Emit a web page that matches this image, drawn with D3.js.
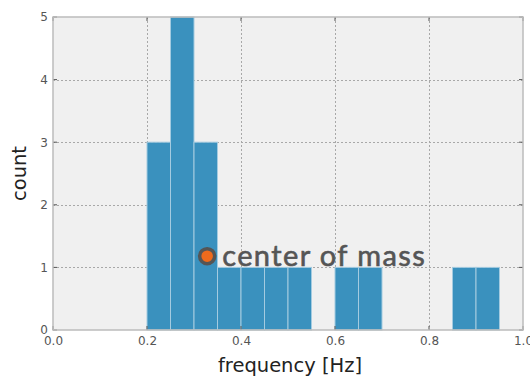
<!DOCTYPE html>
<html>
<head>
<meta charset="utf-8">
<script src="https://cdn.jsdelivr.net/npm/d3@7"></script>
<style>
  html, body { margin: 0; padding: 0; background: #ffffff; }
  svg { display: block; }
</style>
</head>
<body>
<svg id="chart" width="530" height="379"></svg>
<script>
// Histogram bins (left edges, width 0.05 Hz) and their counts
const binStarts = [0.20, 0.25, 0.30, 0.35, 0.40, 0.45, 0.50, 0.60, 0.65, 0.85, 0.90];
const binCounts = [3, 5, 3, 1, 1, 1, 1, 1, 1, 1, 1];
const binWidth = 0.05;

const xTicks = [0.0, 0.2, 0.4, 0.6, 0.8, 1.0];
const yTicks = [0, 1, 2, 3, 4, 5];

// Annotated point
const markerX = [0.328];
const markerY = [1.18];
const markerLabel = ["center of mass"];

const margin = { left: 53, right: 7, top: 17, bottom: 49 };
const W = 530, H = 379;

const svg = d3.select("#chart");
const x = d3.scaleLinear().domain([0, 1]).range([margin.left, W - margin.right]);
const y = d3.scaleLinear().domain([0, 5]).range([H - margin.bottom, margin.top]);

// plot background
svg.append("rect")
  .attr("x", x(0)).attr("y", y(5))
  .attr("width", x(1) - x(0)).attr("height", y(0) - y(5))
  .attr("fill", "#f0f0f0");

// grid
const grid = svg.append("g").attr("stroke", "#a8a8a8").attr("stroke-width", 1)
  .attr("stroke-dasharray", "2,2").attr("fill", "none");
grid.selectAll("line.v").data(xTicks.slice(1, -1)).join("line")
  .attr("x1", d => Math.round(x(d)) + 0.5).attr("x2", d => Math.round(x(d)) + 0.5)
  .attr("y1", y(5)).attr("y2", y(0));
grid.selectAll("line.h").data(yTicks.slice(1, -1)).join("line")
  .attr("y1", d => Math.round(y(d)) + 0.5).attr("y2", d => Math.round(y(d)) + 0.5)
  .attr("x1", x(0)).attr("x2", x(1));

// bars
svg.append("g").selectAll("rect").data(binStarts).join("rect")
  .attr("x", d => x(d))
  .attr("y", (d, i) => y(binCounts[i]))
  .attr("width", x(binWidth) - x(0))
  .attr("height", (d, i) => y(0) - y(binCounts[i]))
  .attr("fill", "#3a91be")
  .attr("stroke", "#a4cbe0")
  .attr("stroke-width", 1);

// axes with gray frame
const tickFmt = d3.format(".1f");
const xAxis = svg.append("g").attr("transform", `translate(0,${y(0)})`)
  .call(d3.axisBottom(x).tickValues(xTicks).tickFormat(tickFmt).tickSize(0).tickPadding(6));
const yAxis = svg.append("g").attr("transform", `translate(${x(0)},0)`)
  .call(d3.axisLeft(y).tickValues(yTicks).tickFormat(d3.format("d")).tickSize(0).tickPadding(5));
[xAxis, yAxis].forEach(a => {
  a.select(".domain").remove();
  a.selectAll("text").attr("fill", "#555").attr("font-family", "DejaVu Sans").attr("font-size", 12);
});

// small tick marks on the inside of the frame
const tk = svg.append("g").attr("stroke", "#555").attr("stroke-width", 1);
tk.selectAll("line.yl").data(yTicks).join("line")
  .attr("x1", x(0)).attr("x2", x(0) + 4).attr("y1", d => y(d)).attr("y2", d => y(d));
tk.selectAll("line.yr").data(yTicks).join("line")
  .attr("x1", x(1) - 4).attr("x2", x(1)).attr("y1", d => y(d)).attr("y2", d => y(d));
tk.selectAll("line.xb").data(xTicks).join("line")
  .attr("y1", y(0)).attr("y2", y(0) - 4).attr("x1", d => x(d)).attr("x2", d => x(d));
tk.selectAll("line.xt").data(xTicks).join("line")
  .attr("y1", y(5)).attr("y2", y(5) + 4).attr("x1", d => x(d)).attr("x2", d => x(d));

svg.append("rect")
  .attr("x", x(0)).attr("y", y(5))
  .attr("width", x(1) - x(0)).attr("height", y(0) - y(5))
  .attr("fill", "none").attr("stroke", "#bcbcbc").attr("stroke-width", 1.5);

// axis titles
svg.append("text")
  .attr("x", 290).attr("y", 372)
  .attr("text-anchor", "middle")
  .attr("font-family", "DejaVu Sans").attr("font-size", 19.5).attr("fill", "#222")
  .text("frequency [Hz]");
svg.append("text")
  .attr("transform", `translate(26,${(y(0) + y(5)) / 2}) rotate(-90)`)
  .attr("text-anchor", "middle")
  .attr("font-family", "DejaVu Sans").attr("font-size", 19.5).attr("fill", "#222")
  .text("count");

// center-of-mass marker and its label
const m = svg.append("g");
m.selectAll("circle").data(markerX).join("circle")
  .attr("cx", d => x(d)).attr("cy", (d, i) => y(markerY[i]))
  .attr("r", 7.5)
  .attr("fill", "#ee6a1c").attr("stroke", "#555").attr("stroke-width", 3.5);
m.selectAll("text").data(markerX).join("text")
  .attr("x", d => x(d) + 15).attr("y", (d, i) => y(markerY[i]) + 10)
  .attr("font-family", "Lato").attr("font-size", 29).attr("letter-spacing", 1.4)
  .attr("fill", "#555").attr("stroke", "#555").attr("stroke-width", 0.6)
  .text((d, i) => markerLabel[i]);
</script>
</body>
</html>
